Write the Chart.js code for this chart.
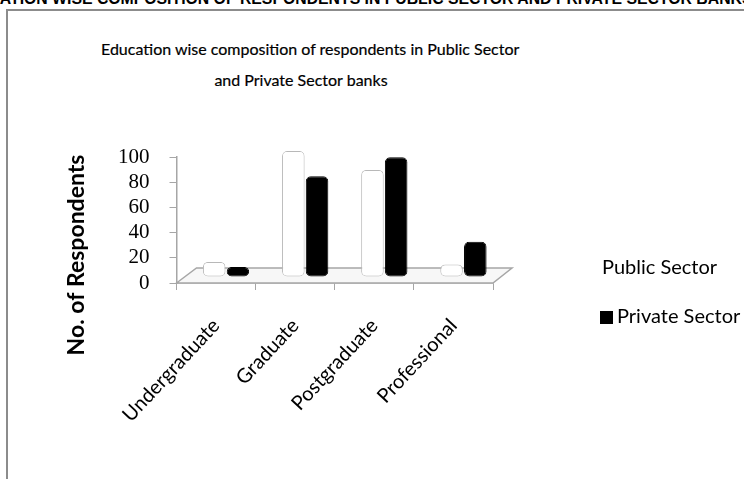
<!DOCTYPE html>
<html>
<head>
<meta charset="utf-8">
<script src="https://cdn.jsdelivr.net/npm/chart.js@4.4.1/dist/chart.umd.min.js"></script>
<style>
  body { margin: 0; width: 744px; height: 479px; overflow: hidden; background: #fff; position: relative; }
  #header { position: absolute; left: -45px; top: -10px; white-space: nowrap; font: bold 15.8px "Liberation Sans", Arial, sans-serif; color: #000; }
  #frame { position: absolute; left: 6px; top: 9px; width: 760px; height: 500px; border-left: 2px solid #8c8c8c; border-top: 2px solid #8c8c8c; }
  #chart { position: absolute; left: 0; top: 0; }
  #title { position: absolute; left: 101px; width: 400px; top: 33px; text-align: center; font: 16px Lato, sans-serif; line-height: 31px; color: #000; white-space: nowrap; -webkit-text-stroke: 0.2px #000; }
  .leg { position: absolute; font: 20px Lato, "Open Sans", sans-serif; color: #000; white-space: nowrap; }
  .leg span { display: inline-block; width: 13px; height: 13px; margin-right: 4px; vertical-align: -1px; }
</style>
</head>
<body>
<div id="header">EDUCATION WISE COMPOSITION OF RESPONDENTS IN PUBLIC SECTOR AND PRIVATE SECTOR BANKS</div>
<div id="frame"></div>
<div id="title">Education wise composition of respondents in Public Sector<br>and Private Sector banks</div>
<canvas id="chart" width="744" height="479"></canvas>
<div id="legend"></div>
<script>
// chart data
const categories = ["Undergraduate", "Graduate", "Postgraduate", "Professional"];
const publicSector = [12, 100, 85, 10];
const privateSector = [8, 80, 95, 28];
const seriesLabels = ["Public Sector", "Private Sector"];
const yTicks = [0, 20, 40, 60, 80, 100];
const yTitle = "No. of Respondents";

// light gray 3D-ish floor, bars drawn with a small depth offset
const floorPlugin = {
    id: "floor",
    beforeDatasetsDraw(chart) {
        const a = chart.chartArea;
        const ctx = chart.ctx;
        ctx.save();
        ctx.strokeStyle = "#a6a6a6";
        ctx.fillStyle = "#f7f7f7";
        ctx.lineWidth = 1.5;
        ctx.beginPath();
        ctx.moveTo(a.left, a.bottom);
        ctx.lineTo(a.left + 20, a.bottom - 15);
        ctx.lineTo(a.right + 19, a.bottom - 15);
        ctx.lineTo(a.right, a.bottom);
        ctx.closePath();
        ctx.fill();
        ctx.stroke();
        ctx.restore();
        ctx.save();
        ctx.translate(10, -6);
    },
    afterDatasetsDraw(chart) {
        chart.ctx.restore();
    },
    // the y axis title sits lower than the plot centre in the original
    afterDraw(chart) {
        const ctx = chart.ctx;
        ctx.save();
        ctx.translate(77, 255);
        ctx.rotate(-Math.PI / 2);
        ctx.font = "bold 23px Lato";
        ctx.fillStyle = "#000";
        ctx.textAlign = "center";
        ctx.textBaseline = "middle";
        ctx.fillText(yTitle, 0, 0);
        ctx.restore();
    }
};

function cylFill(base, edge) {
    return function (context) {
        const el = context.element;
        if (!el || el.x === undefined) return base;
        const w = el.width || 22;
        const g = context.chart.ctx.createLinearGradient(el.x - w / 2, 0, el.x + w / 2, 0);
        g.addColorStop(0, edge);
        g.addColorStop(0.35, base);
        g.addColorStop(1, edge);
        return g;
    };
}

const chart = new Chart(document.getElementById("chart"), {
    type: "bar",
    data: {
        labels: categories,
        datasets: [{
            label: seriesLabels[0],
            data: publicSector,
            backgroundColor: cylFill("#ffffff", "#cfcfcf"),
            borderColor: "#b8b8b8",
            borderWidth: 1,
            borderRadius: 5,
            borderSkipped: false
        }, {
            label: seriesLabels[1],
            data: privateSector,
            backgroundColor: cylFill("#000000", "#1c1c1c"),
            borderColor: "#000000",
            borderWidth: 1,
            borderRadius: 5,
            borderSkipped: false
        }]
    },
    options: {
        responsive: false,
        animation: false,
        categoryPercentage: 0.6,
        barPercentage: 0.95,
        layout: { padding: { left: 98, right: 251, top: 157, bottom: 36 } },
        plugins: {
            legend: { display: false },
            tooltip: { enabled: false },
            title: { display: false }
        },
        scales: {
            x: {
                afterFit(scale) { scale.height += 17; },
                grid: { drawOnChartArea: false, color: "#a6a6a6", tickLength: 7, offset: true },
                border: { color: "#a6a6a6", width: 1.5 },
                ticks: {
                    color: "#000",
                    font: { family: "Lato", size: 20 },
                    maxRotation: 47,
                    minRotation: 47,
                    padding: 24
                }
            },
            y: {
                min: 0,
                max: 100,
                afterBuildTicks(scale) { scale.ticks = yTicks.map(v => ({ value: v })); },
                grid: { drawOnChartArea: false, color: "#a6a6a6", tickLength: 7 },
                border: { color: "#a6a6a6", width: 1.5 },
                ticks: {
                    color: "#000",
                    font: { family: "Liberation Serif", size: 21 },
                    padding: 20,
                    autoSkip: false
                }
            }
        }
    },
    plugins: [floorPlugin]
});

// legend beside the plot, built from the dataset labels
const legendEl = document.getElementById("legend");
const legendPos = [{ left: 602, top: 254 }, { left: 600, top: 303 }];
chart.data.datasets.forEach((ds, i) => {
    const d = document.createElement("div");
    d.className = "leg";
    d.style.left = legendPos[i].left + "px";
    d.style.top = legendPos[i].top + "px";
    const sw = i === 0 ? "" : '<span style="background:#000"></span>';
    d.innerHTML = sw + ds.label;
    legendEl.appendChild(d);
});
</script>
</body>
</html>
